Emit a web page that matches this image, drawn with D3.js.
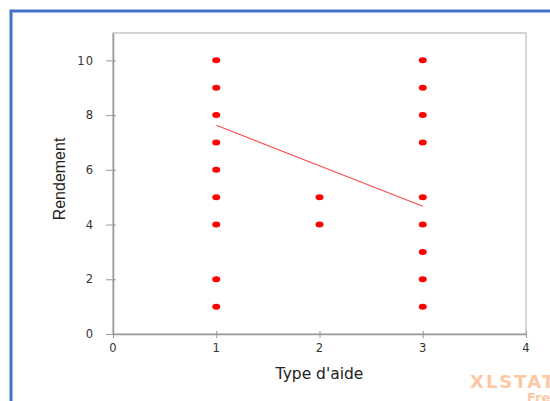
<!DOCTYPE html>
<html>
<head>
<meta charset="utf-8">
<script src="https://cdn.jsdelivr.net/npm/d3@7"></script>
<style>
  body { margin: 0; background: #fff; }
  svg { display: block; }
</style>
</head>
<body>
<svg id="chart" width="550" height="401"></svg>
<script>
// observations: type d'aide (x) and rendement (y)
var typeAide  = [1, 1, 1, 1, 1, 1, 1, 1, 1, 2, 2, 3, 3, 3, 3, 3, 3, 3, 3, 3];
var rendement = [10, 9, 8, 7, 6, 5, 4, 2, 1, 5, 4, 10, 9, 8, 7, 5, 4, 3, 2, 1];
// fitted line end points
var lineX = [1, 3];
var lineY = [7.63, 4.67];
var xTicks = [0, 1, 2, 3, 4];
var yTicks = [0, 2, 4, 6, 8, 10];

var svg = d3.select('#chart');

// outer frame (blue), runs off the right and bottom edge
svg.append('path')
  .attr('d', 'M11,401 L11,11 L550,11')
  .attr('fill', 'none')
  .attr('stroke', '#4472c4')
  .attr('stroke-width', 3);

var plotL = 113, plotR = 526, plotT = 33, plotB = 334;

var x = d3.scaleLinear().domain([0, 4]).range([plotL, plotR]);
var y = d3.scaleLinear().domain([0, 11]).range([plotB, plotT]);

// plot box
svg.append('rect')
  .attr('x', plotL).attr('y', plotT)
  .attr('width', plotR - plotL).attr('height', plotB - plotT)
  .attr('fill', 'none')
  .attr('stroke', '#c8c8c8')
  .attr('stroke-width', 1.5);

var xAxis = svg.append('g')
  .attr('transform', 'translate(0,' + plotB + ')')
  .call(d3.axisBottom(x).tickValues(xTicks).tickFormat(d3.format('d')).tickSize(5).tickSizeOuter(0));
var yAxis = svg.append('g')
  .attr('transform', 'translate(' + plotL + ',0)')
  .call(d3.axisLeft(y).tickValues(yTicks).tickFormat(d3.format('d')).tickSize(5).tickSizeOuter(0));

[xAxis, yAxis].forEach(function(g){
  g.select('.domain').attr('stroke', '#999').attr('stroke-width', 1.5);
  g.selectAll('.tick line').attr('stroke', '#999').attr('stroke-width', 1);
  g.selectAll('.tick text')
    .attr('fill', '#333')
    .attr('font-family', 'DejaVu Sans, Verdana, sans-serif')
    .attr('font-size', '11.5px')
    .attr('letter-spacing', '1px');
});
// ticks cross the axis line
xAxis.selectAll('.tick line').attr('y1', -3).attr('y2', 4);
yAxis.selectAll('.tick line').attr('x1', -7).attr('x2', 3);
xAxis.selectAll('.tick text').attr('y', 10).attr('dy', '0.71em');
yAxis.selectAll('.tick text').attr('x', -19);

// axis titles
svg.append('text')
  .attr('x', x(2)).attr('y', 379)
  .attr('text-anchor', 'middle')
  .attr('font-family', 'DejaVu Sans, Verdana, sans-serif')
  .attr('font-size', '15.5px')
  .attr('fill', '#222')
  .text("Type d'aide");

svg.append('text')
  .attr('transform', 'translate(65,179) rotate(-90)')
  .attr('text-anchor', 'middle')
  .attr('font-family', 'Liberation Sans Narrow, Arial Narrow, sans-serif')
  .attr('font-size', '16px')
  .attr('fill', '#222')
  .text('Rendement');

// fitted line
svg.append('line')
  .attr('x1', x(lineX[0])).attr('y1', y(lineY[0]))
  .attr('x2', x(lineX[1])).attr('y2', y(lineY[1]))
  .attr('stroke', '#ff5050')
  .attr('stroke-width', 1.2);

// points
var pts = typeAide.map(function(t, i){ return {x: t, y: rendement[i]}; });
svg.selectAll('.pt')
  .data(pts)
  .enter()
  .append('ellipse')
  .attr('class', 'pt')
  .attr('cx', function(d){ return x(d.x); })
  .attr('cy', function(d){ return y(d.y); })
  .attr('rx', 4)
  .attr('ry', 3)
  .attr('fill', '#ff0000');

// watermark
svg.append('text')
  .attr('x', 470).attr('y', 388)
  .attr('font-family', 'DejaVu Sans, Verdana, sans-serif')
  .attr('font-weight', 'bold')
  .attr('font-size', '18px')
  .attr('letter-spacing', '2px')
  .attr('fill', '#fdc8a4')
  .text('XLSTAT');
svg.append('text')
  .attr('x', 527).attr('y', 402)
  .attr('font-family', 'DejaVu Sans, Verdana, sans-serif')
  .attr('font-weight', 'bold')
  .attr('font-size', '13px')
  .attr('fill', '#fdc8a4')
  .text('Free');
</script>
</body>
</html>
